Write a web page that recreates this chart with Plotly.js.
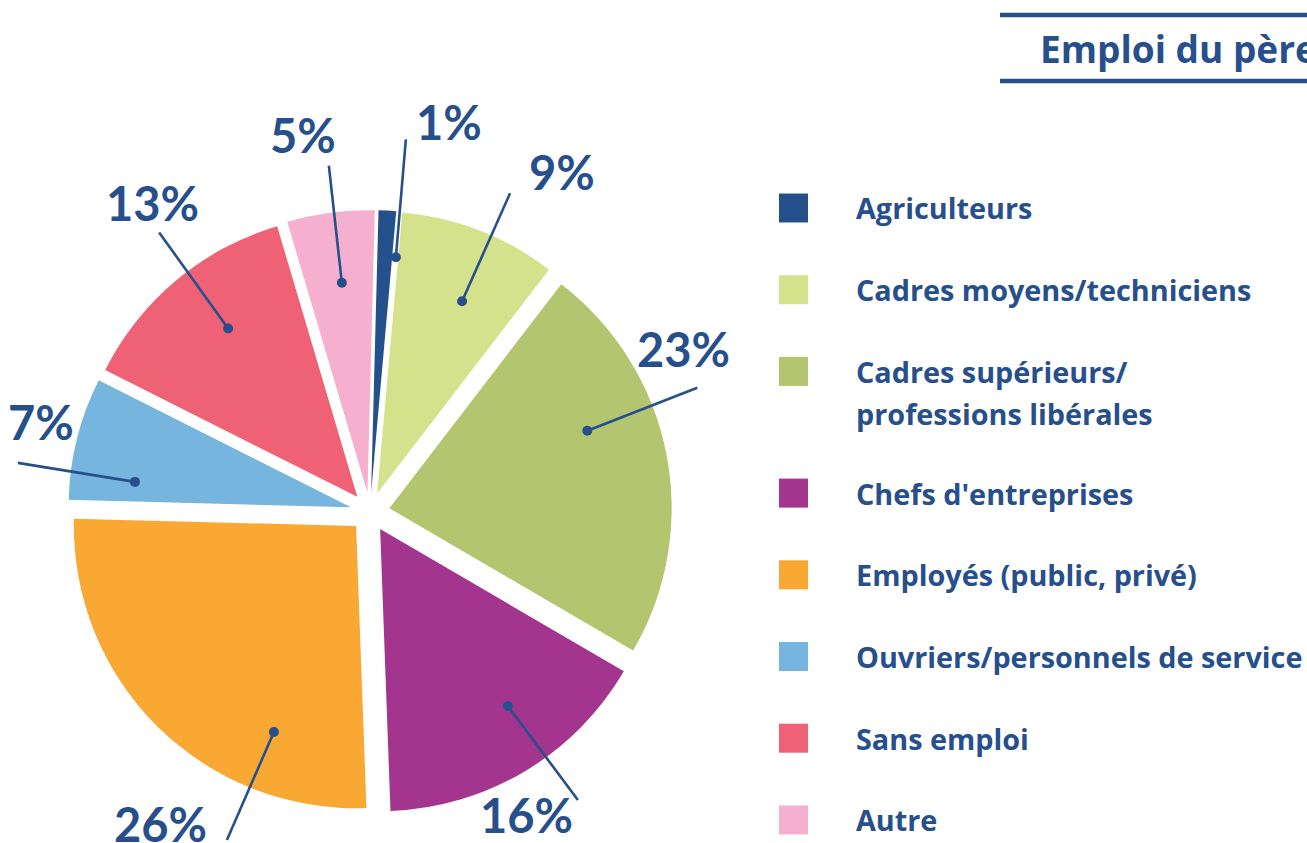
<!DOCTYPE html>
<html>
<head>
<meta charset="utf-8">
<script src="https://cdn.plot.ly/plotly-3.0.1.min.js"></script>
<style>
  html, body { margin: 0; padding: 0; background: #ffffff; }
  #chart { width: 1307px; height: 843px; }
</style>
</head>
<body>
<div id="chart"></div>
<script>
// ---- Data ----
const categories = [
  "Agriculteurs",
  "Cadres moyens/techniciens",
  "Cadres supérieurs/ professions libérales",
  "Chefs d'entreprises",
  "Employés (public, privé)",
  "Ouvriers/personnels de service",
  "Sans emploi",
  "Autre"
];
const values = [1, 9, 23, 16, 26, 7, 13, 5];
const legendLabels = [
  ["Agriculteurs"],
  ["Cadres moyens/techniciens"],
  ["Cadres supérieurs/", "professions libérales"],
  ["Chefs d'entreprises"],
  ["Employés (public, privé)"],
  ["Ouvriers/personnels de service"],
  ["Sans emploi"],
  ["Autre"]
];
const chartTitle = "Emploi du père";

// ---- Style ----
const colors = ["#24508C", "#D4E28C", "#B3C56F", "#A3358F", "#F9A834", "#75B5DE", "#EF6276", "#F5AFCF"];
const navy = "#264F8C";
const LABEL_FONT = "Lato, 'Open Sans', sans-serif";
const TEXT_FONT = "'Open Sans', Lato, sans-serif";

const W = 1307, H = 843;
const px = x => x / W;
const py = y => 1 - y / H;

// pie geometry (pixels)
const CX = 370, CY = 512, HALF = 302, PULL = 0.07, ROT = 1.5;

// label placement (layout only)
const dotShift = [4.0, 3.8, -7.9, -3.0, -19.6, -5.3, 3.7, 2.0].map(s => s - ROT); // degrees from slice bisector
const dotDist  = [256, 230, 232, 238, 240, 237, 232, 231];         // px from pie centre
const lineEnd  = [[10,-118],[48,-108],[110,-43],[70,94],[-47,108],[-117,-19],[-69,-96],[-13,-117]];
const labelOff = [[53,-135],[100,-129],[96,-82],[19,109],[-113,92],[-94,-60],[-76,-125],[-39,-148]];

const total = values.reduce((a, b) => a + b, 0);
const shapes = [];
const annotations = [];

let cum = 0;
values.forEach((v, i) => {
  const mid = ROT + 360 * (cum + v / 2) / total;
  cum += v;
  const a = (mid + dotShift[i]) * Math.PI / 180;
  const dx = CX + dotDist[i] * Math.sin(a);
  const dy = CY - dotDist[i] * Math.cos(a);
  const ex = dx + lineEnd[i][0], ey = dy + lineEnd[i][1];
  shapes.push({type: "line", xref: "paper", yref: "paper",
    x0: px(dx), y0: py(dy), x1: px(ex), y1: py(ey),
    line: {color: navy, width: 2.6}});
  shapes.push({type: "circle", xref: "paper", yref: "paper",
    xsizemode: "pixel", ysizemode: "pixel",
    xanchor: px(dx), yanchor: py(dy), x0: -5, x1: 5, y0: -5, y1: 5,
    fillcolor: navy, line: {color: navy, width: 0}});
  annotations.push({xref: "paper", yref: "paper",
    x: px(dx + labelOff[i][0]), y: py(dy + labelOff[i][1]),
    xanchor: "center", yanchor: "middle", showarrow: false,
    text: "<b>" + v + "%</b>",
    font: {family: LABEL_FONT, size: 47, color: navy}});
});

// manual legend
const LX = 779, LS = 29, TX = 857, LY0 = 208, LSTEP = 81.7, LLINE = 42;
let extra = 0;
legendLabels.forEach((lines, i) => {
  const yc = LY0 + LSTEP * i + extra;
  shapes.push({type: "rect", xref: "paper", yref: "paper",
    x0: px(LX), x1: px(LX + LS), y0: py(yc - LS / 2), y1: py(yc + LS / 2),
    fillcolor: colors[i], line: {width: 0}});
  lines.forEach((t, j) => {
    annotations.push({xref: "paper", yref: "paper",
      x: px(TX - 3), y: py(yc + j * LLINE), xanchor: "left", yanchor: "middle",
      showarrow: false, text: "<b>" + t + "</b>",
      font: {family: TEXT_FONT, size: 28.8, color: navy}});
  });
  extra += (lines.length - 1) * (LLINE - 2);
});

// title box
shapes.push({type: "line", xref: "paper", yref: "paper", x0: px(1000), x1: px(1310), y0: py(15), y1: py(15), line: {color: navy, width: 4.5}});
shapes.push({type: "line", xref: "paper", yref: "paper", x0: px(1000), x1: px(1310), y0: py(81), y1: py(81), line: {color: navy, width: 4.5}});
annotations.push({xref: "paper", yref: "paper", x: px(1038), y: py(48), xanchor: "left", yanchor: "middle",
  showarrow: false, text: "<b>" + chartTitle + "</b>", font: {family: TEXT_FONT, size: 37, color: navy}});

const trace = {
  type: "pie",
  labels: categories,
  values: values,
  sort: false,
  direction: "clockwise",
  rotation: ROT,
  pull: PULL,
  textinfo: "none",
  hoverinfo: "label+percent",
  marker: {colors: colors, line: {width: 0}},
  showlegend: false,
  domain: {x: [px(CX - HALF), px(CX + HALF)], y: [py(CY + HALF), py(CY - HALF)]}
};

const layout = {
  width: W, height: H,
  margin: {l: 0, r: 0, t: 0, b: 0},
  paper_bgcolor: "#ffffff",
  showlegend: false,
  shapes: shapes,
  annotations: annotations
};

Plotly.newPlot("chart", [trace], layout, {displayModeBar: false, staticPlot: true});
</script>
</body>
</html>
